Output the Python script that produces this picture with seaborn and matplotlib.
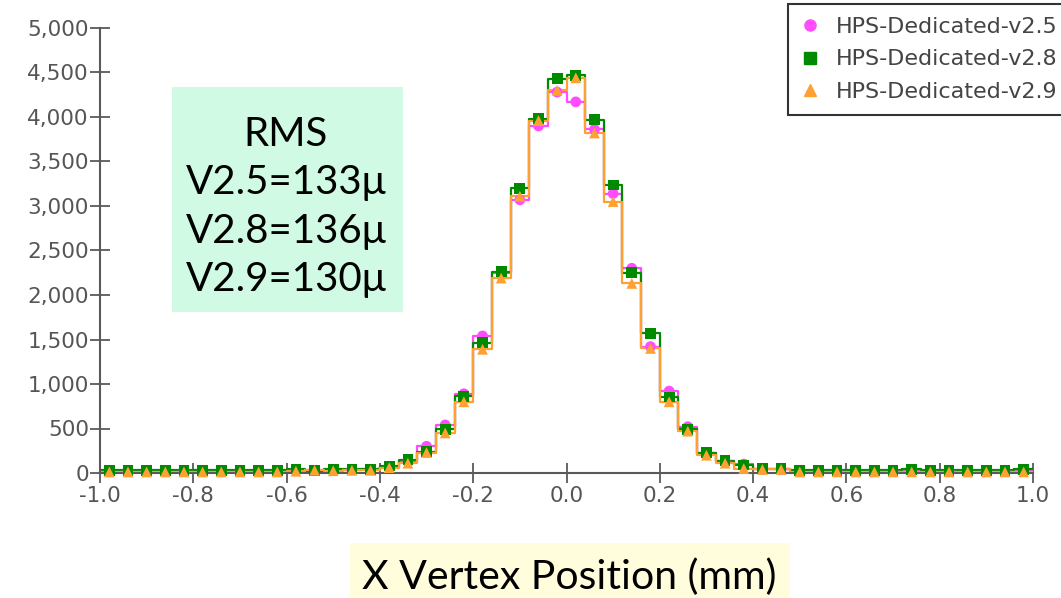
import numpy as np
import pandas as pd
import matplotlib
matplotlib.use("Agg")
import matplotlib.pyplot as plt
from matplotlib.lines import Line2D
from matplotlib.patches import Rectangle
import seaborn as sns

# ---------------- data ----------------
bin_lo = -1.0
bin_hi = 1.0
n_bins = 50

v25 = [20, 20, 20, 20, 20, 20, 20, 20, 20, 20,
       30, 30, 35, 35, 40, 70, 130, 300, 540, 890,
       1540, 2250, 3070, 3900, 4280, 4170, 3860, 3140, 2300, 1420,
       920, 520, 220, 130, 100, 40, 40, 20, 20, 20,
       20, 20, 20, 20, 20, 20, 20, 20, 20, 20]
v28 = [30, 30, 30, 30, 30, 30, 30, 30, 30, 30,
       45, 25, 45, 45, 40, 80, 150, 240, 490, 860,
       1465, 2260, 3200, 3980, 4430, 4470, 3970, 3235, 2250, 1570,
       855, 490, 230, 140, 90, 50, 50, 30, 30, 30,
       30, 30, 30, 40, 30, 30, 30, 30, 30, 40]
v29 = [12, 12, 12, 12, 12, 12, 12, 12, 12, 12,
       20, 30, 25, 30, 30, 60, 110, 230, 450, 800,
       1390, 2190, 3110, 3960, 4300, 4440, 3820, 3050, 2130, 1400,
       800, 470, 200, 110, 50, 40, 40, 12, 12, 12,
       12, 12, 12, 12, 12, 12, 12, 12, 12, 12]

labels = ["HPS-Dedicated-v2.5", "HPS-Dedicated-v2.8", "HPS-Dedicated-v2.9"]
rms_lines = ["RMS", "V2.5=133\u03bc", "V2.8=136\u03bc", "V2.9=130\u03bc"]
xlabel = "X Vertex Position (mm)"
xticks = [-1.0, -0.8, -0.6, -0.4, -0.2, 0.0, 0.2, 0.4, 0.6, 0.8, 1.0]
yticks = [0, 500, 1000, 1500, 2000, 2500, 3000, 3500, 4000, 4500, 5000]

# ---------------- derived ----------------
edges = np.linspace(bin_lo, bin_hi, n_bins + 1)
centers = 0.5 * (edges[:-1] + edges[1:])

series = [
    (v25, "#ff4cff", "o"),
    (v28, "#008a00", "s"),
    (v29, "#ffa033", "^"),
]

sns.set_style("white")
plt.rcParams["font.family"] = ["DejaVu Sans"]

fig = plt.figure(figsize=(10.61, 5.98), dpi=100)
ax = fig.add_axes([100 / 1061, 1 - 473 / 598, (1033 - 100) / 1061, (473 - 28) / 598])

for vals, col, mk in series:
    step_df = pd.DataFrame({"x": edges, "y": list(vals) + [vals[-1]]})
    sns.lineplot(data=step_df, x="x", y="y", drawstyle="steps-post", color=col,
                 linewidth=1.6, ax=ax, estimator=None, sort=False)
    pt_df = pd.DataFrame({"x": centers, "y": vals})
    sns.scatterplot(data=pt_df, x="x", y="y", marker=mk, color=col, s=60,
                    edgecolor="none", ax=ax, zorder=3, clip_on=False)

ax.set_xlim(bin_lo, bin_hi)
ax.set_ylim(0, 5000)
ax.set_xticks(xticks)
ax.set_xticklabels([f"{t:.1f}" for t in xticks])
ax.set_yticks(yticks)
ax.set_yticklabels([f"{t:,}" for t in yticks])
ax.set_xlabel("")
ax.set_ylabel("")
for s in ["top", "right"]:
    ax.spines[s].set_visible(False)
for s in ["left", "bottom"]:
    ax.spines[s].set_color("#5a5a5a")
    ax.spines[s].set_linewidth(1.5)
ax.tick_params(axis="both", bottom=True, left=True, direction="inout", length=14,
               width=1.3, color="#5a5a5a", labelcolor="#555555", labelsize=15.5)
ax.tick_params(axis="y", pad=1)
ax.tick_params(axis="x", pad=2)
ax.patch.set_alpha(0)

# legend
handles = [Line2D([], [], linestyle="none", marker=mk, color=col, markersize=8)
           for (_, col, mk) in series]
leg = fig.legend(handles, labels, loc="lower left",
                 bbox_to_anchor=(788 / 1061, 1 - 115 / 598), borderaxespad=0,
                 fontsize=16, frameon=True, fancybox=False, edgecolor="black",
                 handlelength=0.8, handletextpad=0.75, labelspacing=0.55,
                 borderpad=0.6)
leg.get_frame().set_linewidth(1.5)
for t in leg.get_texts():
    t.set_color("#444444")

# RMS box
fig.patches.append(Rectangle((172 / 1061, 1 - 312 / 598), 231 / 1061, 225 / 598,
                             transform=fig.transFigure, facecolor="#d0fae4",
                             edgecolor="none", zorder=0))
fig.text(286 / 1061, 1 - 207 / 598, "\n".join(rms_lines), ha="center", va="center",
         fontsize=29, family=["Lato", "DejaVu Sans"], linespacing=1.38, color="black")

# x label box
fig.patches.append(Rectangle((350 / 1061, 0), 440 / 1061, 55 / 598,
                             transform=fig.transFigure, facecolor="#fffddc",
                             edgecolor="none", zorder=0))
fig.text(569 / 1061, 1 - 577 / 598, xlabel, ha="center", va="center",
         fontsize=29.5, family=["Lato", "DejaVu Sans"], color="black")

fig.savefig("out.png", dpi=100)
